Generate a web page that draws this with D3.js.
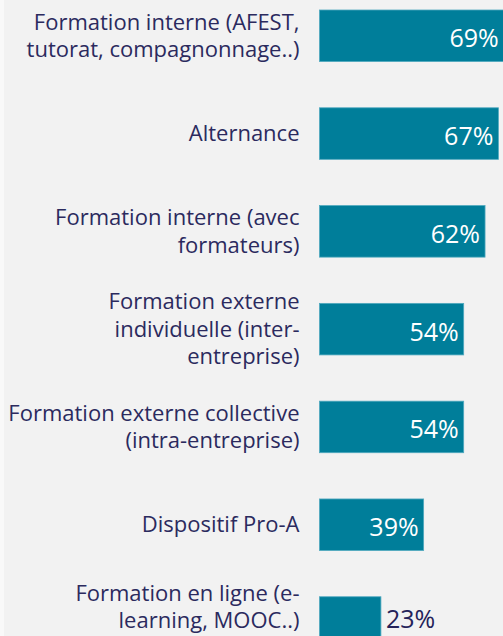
<!DOCTYPE html>
<html>
<head>
<meta charset="utf-8">
<script src="https://cdn.jsdelivr.net/npm/d3@7"></script>
<style>
  html, body { margin: 0; padding: 0; background: #f2f2f2; }
  svg { display: block; }
</style>
</head>
<body>
<svg id="chart" width="503" height="636"></svg>
<script>
// categories (line breaks as in the original labels)
var categories = [
  "Formation interne (AFEST,\ntutorat, compagnonnage..)",
  "Alternance",
  "Formation interne (avec\nformateurs)",
  "Formation externe\nindividuelle (inter-\nentreprise)",
  "Formation externe collective\n(intra-entreprise)",
  "Dispositif Pro-A",
  "Formation en ligne (e-\nlearning, MOOC..)"
];
var values = [69, 67, 62, 54, 54, 39, 23];

var svgEl = d3.select('#chart');
var width = +svgEl.attr('width'), height = +svgEl.attr('height');
var font = "'Open Sans', 'Noto Sans', sans-serif";

svgEl.append('rect').attr('width', width).attr('height', height).attr('fill', '#f2f2f2');
svgEl.append('rect').attr('width', 4).attr('height', height).attr('fill', '#f9f9f9');

var x = d3.scaleLinear().domain([0, 100]).range([319.5, 319.5 + 267]);
var y = d3.scaleBand().domain(categories).range([10, 648.3]).paddingInner(0.473).paddingOuter(0);

var rows = categories.map(function(c, i) { return { cat: c, value: values[i] }; });

var bars = svgEl.append('g').attr('class', 'bars');
bars.selectAll('rect').data(rows).enter().append('rect')
  .attr('x', x(0))
  .attr('y', function(d) { return y(d.cat); })
  .attr('width', function(d) { return x(d.value) - x(0); })
  .attr('height', y.bandwidth())
  .attr('fill', '#007e9a')
  .attr('stroke', '#4fa9bf')
  .attr('stroke-width', 0.8);

// value labels: inside white, outside dark when the bar is short
bars.selectAll('text.val').data(rows).enter().append('text')
  .attr('class', 'val')
  .attr('x', function(d) { return d.value < 30 ? x(d.value) + 5 : x(d.value) - 5; })
  .attr('y', function(d) { return Math.min(y(d.cat) + y.bandwidth() / 2 + 11.5, height - 8); })
  .attr('text-anchor', function(d) { return d.value < 30 ? 'start' : 'end'; })
  .attr('fill', function(d) { return d.value < 30 ? '#25235a' : '#ffffff'; })
  .style('font-family', font)
  .style('font-size', '25px')
  .text(function(d) { return d.value + '%'; });

// category labels, right aligned, centred on the bar, kept inside the canvas
var lineH = 27.5;
var labels = svgEl.append('g').attr('class', 'labels');
labels.selectAll('text').data(rows).enter().append('text')
  .attr('text-anchor', 'end')
  .attr('fill', '#2b2a5e')
  .style('font-family', font)
  .style('font-size', '22px')
  .each(function(d) {
    var lines = d.cat.split('\n');
    var cy = y(d.cat) + y.bandwidth() / 2;
    var top = cy - (lines.length - 1) * lineH / 2 + 7.7;
    var last = top + (lines.length - 1) * lineH;
    if (last > height - 8) top -= last - (height - 8);
    var t = d3.select(this);
    lines.forEach(function(l, k) {
      t.append('tspan').attr('x', 299.5).attr('y', top + k * lineH).text(l);
    });
  });
</script>
</body>
</html>
